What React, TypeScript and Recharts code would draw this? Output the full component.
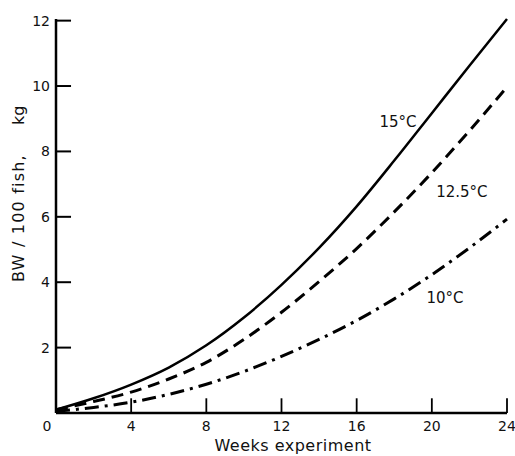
import React from 'react';
import { LineChart, Line, XAxis, YAxis, ReferenceDot, ReferenceLine } from 'recharts';

// weeks of experiment
const weeks = [0, 2, 4, 6, 8, 10, 12, 14, 16, 18, 20, 22, 24];
// body weight per 100 fish (kg) at each temperature
const bw15 = [0.1, 0.45, 0.87, 1.39, 2.07, 2.92, 3.92, 5.05, 6.32, 7.72, 9.17, 10.62, 12.05];
const bw125 = [0.1, 0.35, 0.64, 1.04, 1.55, 2.25, 3.08, 4.02, 5.03, 6.15, 7.35, 8.63, 9.97];
const bw10 = [0.05, 0.17, 0.33, 0.57, 0.88, 1.27, 1.73, 2.25, 2.83, 3.49, 4.23, 5.05, 5.93];

const xTicks = [0, 4, 8, 12, 16, 20, 24];
const yTicks = [2, 4, 6, 8, 10, 12];

const data = weeks.map((w, i) => ({ week: w, t15: bw15[i], t125: bw125[i], t10: bw10[i] }));

const font = '"DejaVu Sans", Verdana, sans-serif';
const PLOT_LEFT = 56;
const PLOT_BOTTOM = 413;
// inward tick lengths in data units (~15px)
const X_TICK_LEN = 0.45;
const Y_TICK_LEN = 0.8;

const YTick = (props: any) => {
    const { payload } = props;
    const y = payload.coordinate;
    return (
        <text x={PLOT_LEFT - 6} y={y} dy="0.36em" textAnchor="end" fontSize={14} fontFamily={font} fill="#111">
            {payload.value}
        </text>
    );
};

const XTick = (props: any) => {
    const { payload } = props;
    const x = payload.coordinate;
    const isZero = payload.value === 0;
    return (
        <text x={isZero ? x - 9 : x} y={PLOT_BOTTOM + 13} dy="0.36em" textAnchor="middle" fontSize={14} fontFamily={font} fill="#111">
            {payload.value}
        </text>
    );
};

const curveLabel = (text: string) => ({
    value: text,
    position: 'center' as const,
    fontSize: 15,
    fontFamily: font,
    fill: '#111',
});

export default function App() {
    return (
        <div style={{ position: 'absolute', left: 0, top: 0, background: '#fff' }}>
            <LineChart width={515} height={456} data={data} margin={{ top: 19, right: 8, bottom: 13, left: 16 }}>
                <XAxis
                    dataKey="week"
                    type="number"
                    domain={[0, 24]}
                    ticks={xTicks}
                    height={30}
                    tickSize={0}
                    tickMargin={0}
                    tickLine={false}
                    tick={<XTick />}
                    axisLine={{ stroke: '#000', strokeWidth: 2.5 }}
                    label={{
                        content: () => (
                            <text x={293} y={445} dy="0.36em" textAnchor="middle"
                                fontSize={16} fontFamily={font} letterSpacing={0.5} fill="#111">
                                Weeks experiment
                            </text>
                        ),
                    }}
                />
                <YAxis
                    type="number"
                    domain={[0, 12]}
                    ticks={yTicks}
                    width={40}
                    tickSize={0}
                    tickMargin={0}
                    tickLine={false}
                    tick={<YTick />}
                    axisLine={{ stroke: '#000', strokeWidth: 2.5 }}
                    label={{
                        content: () => (
                            <g fontSize={16} fontFamily={font} fill="#111">
                                <text transform="translate(18,282) rotate(-90)" textAnchor="start" dy="0.36em" letterSpacing={1.2}>
                                    BW / 100 fish,
                                </text>
                                <text transform="translate(18,125) rotate(-90)" textAnchor="start" dy="0.36em">
                                    kg
                                </text>
                            </g>
                        ),
                    }}
                />
                {xTicks.filter((t) => t > 0).map((t) => (
                    <ReferenceLine key={'xt' + t} segment={[{ x: t, y: 0 }, { x: t, y: X_TICK_LEN }]} stroke="#000" strokeWidth={1.8} />
                ))}
                {yTicks.map((t) => (
                    <ReferenceLine key={'yt' + t} segment={[{ x: 0, y: t }, { x: Y_TICK_LEN, y: t }]} stroke="#000" strokeWidth={2} />
                ))}
                <Line type="monotone" dataKey="t15" stroke="#000" strokeWidth={2.5} dot={false} isAnimationActive={false} />
                <Line type="monotone" dataKey="t125" stroke="#000" strokeWidth={3} strokeDasharray="12 7" dot={false} isAnimationActive={false} />
                <Line type="monotone" dataKey="t10" stroke="#000" strokeWidth={3} strokeDasharray="14 6 3 6" dot={false} isAnimationActive={false} />
                <ReferenceDot x={18.2} y={8.9} r={0} fill="none" stroke="none" label={curveLabel('15°C')} />
                <ReferenceDot x={21.6} y={6.77} r={0} fill="none" stroke="none" label={curveLabel('12.5°C')} />
                <ReferenceDot x={20.7} y={3.54} r={0} fill="none" stroke="none" label={curveLabel('10°C')} />
            </LineChart>
        </div>
    );
}
